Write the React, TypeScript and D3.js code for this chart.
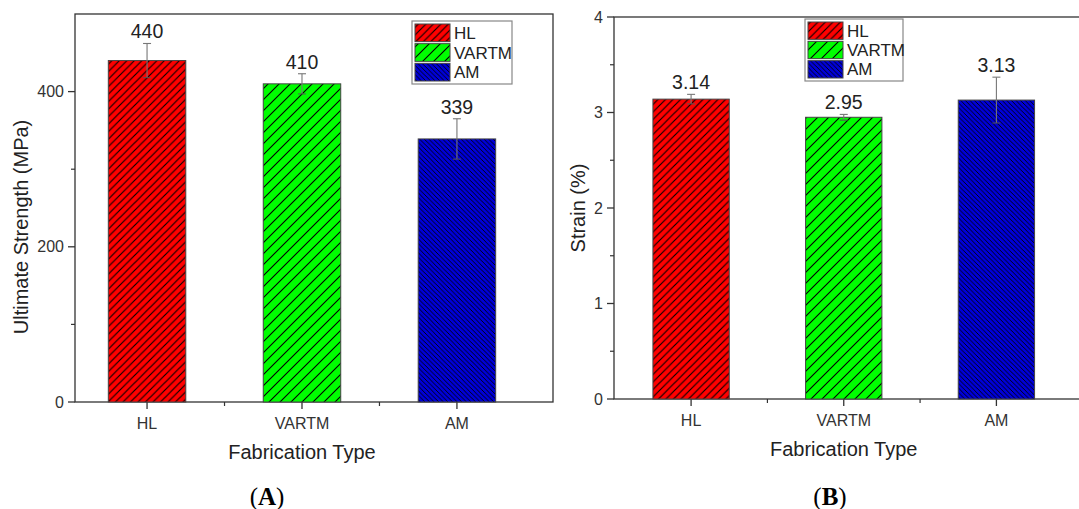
import * as d3 from 'd3';
import { useEffect, useRef } from 'react';

// Chart data
const categories = ['HL', 'VARTM', 'AM'];
const strengthValues = [440, 410, 339];
const strengthErrors = [22, 13, 26];
const strainValues = [3.14, 2.95, 3.13];
const strainErrors = [0.05, 0.03, 0.24];
const strengthTicks = [0, 200, 400];
const strengthMinorTicks = [100, 300];
const strainTicks = [0, 1, 2, 3, 4];
const strainMinorTicks = [0.5, 1.5, 2.5, 3.5];

const fillColors = ['#ff0000', '#00ff00', '#0000d8'];
// hatch: direction, spacing and line width for each category
const hatches = [
  { dir: '/', size: 7.5, lw: 1.1 },
  { dir: '/', size: 11, lw: 1.1 },
  { dir: '\\', size: 4.6, lw: 0.9 },
];

const font = '"Liberation Sans", Arial, sans-serif';
const axisColor = '#333';

const panels = [
  {
    values: strengthValues,
    errors: strengthErrors,
    ticks: strengthTicks,
    minor: strengthMinorTicks,
    yDomain: [0, 500],
    xDomain: [0.535, 3.62],
    left: 75,
    right: 553,
    top: 14,
    bottom: 402,
    yTitle: 'Ultimate Strength (MPa)',
    yTitleX: 21,
    yTitleY: 227,
    format: (v) => d3.format('d')(v),
    legend: { x: 412, y: 21, w: 100, h: 63 },
    letter: 'A',
    letterX: 267,
  },
  {
    values: strainValues,
    errors: strainErrors,
    ticks: strainTicks,
    minor: strainMinorTicks,
    yDomain: [0, 4],
    xDomain: [0.495, 3.6],
    left: 614,
    right: 1088,
    top: 17,
    bottom: 399,
    yTitle: 'Strain (%)',
    yTitleX: 578,
    yTitleY: 208,
    format: (v) => d3.format('.2f')(v),
    legend: { x: 805, y: 19, w: 98, h: 62 },
    letter: 'B',
    letterX: 830,
  },
];

function hatchPath(dir, s) {
  if (dir === '/') {
    return `M0,${s} L${s},0 M${-s / 2},${s / 2} L${s / 2},${-s / 2} M${s / 2},${s * 1.5} L${s * 1.5},${s / 2}`;
  }
  return `M0,0 L${s},${s} M${-s / 2},${s / 2} L${s / 2},${s * 1.5} M${s / 2},${-s / 2} L${s * 1.5},${s / 2}`;
}

function drawPanel(svg, p) {
  const g = svg.append('g');

  const x = d3.scaleLinear().domain(p.xDomain).range([p.left, p.right]);
  const y = d3.scaleLinear().domain(p.yDomain).range([p.bottom, p.top]);
  const barW = x(1.5) - x(1);

  // frame
  g.append('rect')
    .attr('x', p.left)
    .attr('y', p.top)
    .attr('width', p.right - p.left)
    .attr('height', p.bottom - p.top)
    .attr('fill', 'none')
    .attr('stroke', axisColor)
    .attr('stroke-width', 1.3);

  // y ticks
  g.selectAll('.ytick')
    .data(p.ticks)
    .enter()
    .append('line')
    .attr('x1', p.left - 7)
    .attr('x2', p.left)
    .attr('y1', (d) => y(d))
    .attr('y2', (d) => y(d))
    .attr('stroke', axisColor)
    .attr('stroke-width', 1.3);
  g.selectAll('.yminor')
    .data(p.minor)
    .enter()
    .append('line')
    .attr('x1', p.left - 4)
    .attr('x2', p.left)
    .attr('y1', (d) => y(d))
    .attr('y2', (d) => y(d))
    .attr('stroke', axisColor)
    .attr('stroke-width', 1.2);
  g.selectAll('.ylabel')
    .data(p.ticks)
    .enter()
    .append('text')
    .attr('x', p.left - 11)
    .attr('y', (d) => y(d))
    .attr('dy', '0.35em')
    .attr('text-anchor', 'end')
    .attr('font-family', font)
    .attr('font-size', 16)
    .attr('fill', axisColor)
    .text((d) => d);

  // x ticks
  const xMajor = categories.map((c, i) => i + 1);
  const xMinor = [1.5, 2.5];
  g.selectAll('.xtick')
    .data(xMajor)
    .enter()
    .append('line')
    .attr('x1', (d) => x(d))
    .attr('x2', (d) => x(d))
    .attr('y1', p.bottom)
    .attr('y2', p.bottom + 7)
    .attr('stroke', axisColor)
    .attr('stroke-width', 1.3);
  g.selectAll('.xminor')
    .data(xMinor)
    .enter()
    .append('line')
    .attr('x1', (d) => x(d))
    .attr('x2', (d) => x(d))
    .attr('y1', p.bottom)
    .attr('y2', p.bottom + 4)
    .attr('stroke', axisColor)
    .attr('stroke-width', 1.2);
  g.selectAll('.xlabel')
    .data(categories)
    .enter()
    .append('text')
    .attr('x', (d, i) => x(i + 1))
    .attr('y', p.bottom + 21)
    .attr('dy', '0.35em')
    .attr('text-anchor', 'middle')
    .attr('font-family', font)
    .attr('font-size', 16)
    .attr('fill', axisColor)
    .text((d) => d);

  // bars
  g.selectAll('.bar')
    .data(p.values)
    .enter()
    .append('rect')
    .attr('x', (d, i) => x(i + 1) - barW / 2)
    .attr('y', (d) => y(d))
    .attr('width', barW)
    .attr('height', (d) => p.bottom - y(d))
    .attr('fill', (d, i) => `url(#hatch-${i})`)
    .attr('stroke', '#444')
    .attr('stroke-width', 1);

  // error bars
  const err = g.selectAll('.err').data(p.values).enter().append('g');
  err
    .append('line')
    .attr('x1', (d, i) => x(i + 1))
    .attr('x2', (d, i) => x(i + 1))
    .attr('y1', (d, i) => y(d - p.errors[i]))
    .attr('y2', (d, i) => y(d + p.errors[i]))
    .attr('stroke', '#777')
    .attr('stroke-width', 1.1);
  err
    .append('line')
    .attr('x1', (d, i) => x(i + 1) - 4)
    .attr('x2', (d, i) => x(i + 1) + 4)
    .attr('y1', (d, i) => y(d + p.errors[i]))
    .attr('y2', (d, i) => y(d + p.errors[i]))
    .attr('stroke', '#777')
    .attr('stroke-width', 1.1);
  err
    .append('line')
    .attr('x1', (d, i) => x(i + 1) - 4)
    .attr('x2', (d, i) => x(i + 1) + 4)
    .attr('y1', (d, i) => y(d - p.errors[i]))
    .attr('y2', (d, i) => y(d - p.errors[i]))
    .attr('stroke', '#555')
    .attr('stroke-width', 1);

  // value labels
  g.selectAll('.val')
    .data(p.values)
    .enter()
    .append('text')
    .attr('x', (d, i) => x(i + 1))
    .attr('y', (d, i) => y(d + p.errors[i]) - 5)
    .attr('text-anchor', 'middle')
    .attr('font-family', font)
    .attr('font-size', 19.5)
    .attr('fill', '#222')
    .text((d) => p.format(d));

  // axis titles
  g.append('text')
    .attr('transform', `translate(${p.yTitleX},${p.yTitleY}) rotate(-90)`)
    .attr('dy', '0.35em')
    .attr('text-anchor', 'middle')
    .attr('font-family', font)
    .attr('font-size', 20)
    .attr('fill', '#222')
    .text(p.yTitle);
  g.append('text')
    .attr('x', (x(1) + x(3)) / 2)
    .attr('y', p.bottom + 50)
    .attr('dy', '0.35em')
    .attr('text-anchor', 'middle')
    .attr('font-family', font)
    .attr('font-size', 20)
    .attr('fill', '#222')
    .text('Fabrication Type');

  // legend
  const lg = p.legend;
  g.append('rect')
    .attr('x', lg.x)
    .attr('y', lg.y)
    .attr('width', lg.w)
    .attr('height', lg.h)
    .attr('fill', 'white')
    .attr('stroke', '#888')
    .attr('stroke-width', 1.2);
  const rowH = (lg.h - 4) / 3;
  const rows = g.selectAll('.leg').data(categories).enter().append('g');
  rows
    .append('rect')
    .attr('x', lg.x + 3)
    .attr('y', (d, i) => lg.y + 2 + i * rowH + 1)
    .attr('width', 35)
    .attr('height', rowH - 2)
    .attr('fill', (d, i) => `url(#hatch-${i})`)
    .attr('stroke', '#444')
    .attr('stroke-width', 1);
  rows
    .append('text')
    .attr('x', lg.x + 42)
    .attr('y', (d, i) => lg.y + 2 + i * rowH + rowH / 2)
    .attr('dy', '0.36em')
    .attr('font-family', font)
    .attr('font-size', 17)
    .attr('fill', '#222')
    .text((d) => d);

  // panel letter
  const letter = g
    .append('text')
    .attr('x', p.letterX)
    .attr('y', 505)
    .attr('text-anchor', 'middle')
    .attr('font-family', '"Liberation Serif", "Times New Roman", serif')
    .attr('font-size', 25)
    .attr('fill', '#000');
  letter.append('tspan').text('(');
  letter.append('tspan').attr('font-weight', 'bold').text(p.letter);
  letter.append('tspan').text(')');
}

export default function App() {
  const ref = useRef(null);

  useEffect(() => {
    const svg = d3.select(ref.current);
    svg.selectAll('*').remove();

    // hatch patterns
    const defs = svg.append('defs');
    hatches.forEach((h, i) => {
      const pat = defs
        .append('pattern')
        .attr('id', `hatch-${i}`)
        .attr('patternUnits', 'userSpaceOnUse')
        .attr('width', h.size)
        .attr('height', h.size);
      pat
        .append('rect')
        .attr('width', h.size)
        .attr('height', h.size)
        .attr('fill', fillColors[i]);
      pat
        .append('path')
        .attr('d', hatchPath(h.dir, h.size))
        .attr('stroke', '#000')
        .attr('stroke-width', h.lw);
    });

    panels.forEach((p) => drawPanel(svg, p));
  }, []);

  return (
    <svg
      ref={ref}
      width={1079}
      height={509}
      style={{ position: 'absolute', left: 0, top: 0, background: 'white' }}
    />
  );
}
